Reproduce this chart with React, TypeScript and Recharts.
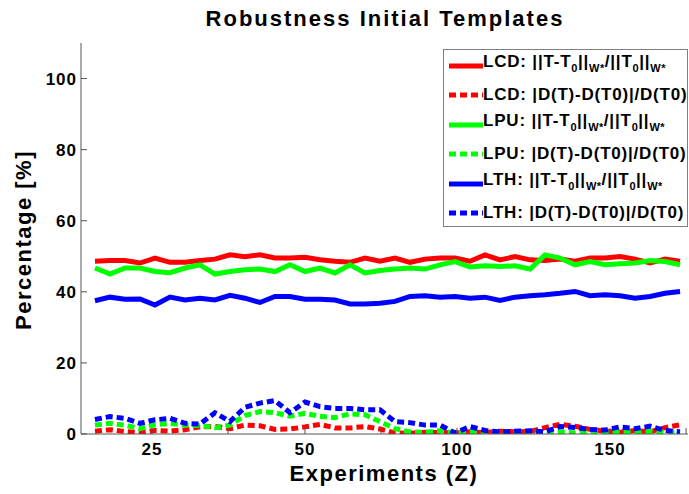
import React from 'react';
import { LineChart, Line, XAxis, YAxis } from 'recharts';

const experiments = [1, 2, 3, 4, 5, 6, 7, 8, 9, 10, 11, 12, 13, 14, 15, 16, 17, 18, 19, 20, 21, 22, 23, 24, 25, 26, 27, 28, 29, 30, 31, 32, 33, 34, 35, 36, 37, 38, 39, 40];

const lcdNorm = [48.6, 48.8, 48.8, 48.1, 49.5, 48.3, 48.3, 48.8, 49.2, 50.4, 49.9, 50.4, 49.5, 49.5, 49.7, 49.0, 48.6, 48.3, 49.5, 48.6, 49.5, 48.3, 49.2, 49.5, 49.5, 48.6, 50.4, 49.0, 49.9, 49.0, 48.8, 49.2, 48.6, 49.5, 49.5, 49.9, 49.2, 48.1, 49.2, 48.6];
const lcdDet = [0.8, 1.2, 0.7, 0.4, 1.0, 0.8, 1.2, 2.0, 2.1, 1.5, 2.5, 2.3, 1.3, 1.4, 2.0, 2.7, 1.7, 1.7, 2.1, 1.4, 0.3, 0.2, 0.5, 0.4, 0.3, 0.6, 0.4, 0.8, 0.6, 0.7, 1.8, 2.7, 2.2, 1.3, 0.8, 0.5, 1.0, 0.6, 1.8, 2.6];
const lpuNorm = [46.7, 45.0, 46.7, 46.7, 45.7, 45.4, 46.7, 47.6, 45.0, 45.7, 46.2, 46.4, 45.7, 47.6, 45.7, 46.7, 45.3, 47.6, 45.3, 46.0, 46.4, 46.7, 46.4, 47.6, 48.5, 47.0, 47.3, 47.1, 47.3, 46.4, 50.4, 49.5, 47.6, 48.5, 47.6, 47.9, 48.1, 48.8, 48.5, 47.6];
const lpuDet = [2.5, 3.0, 2.5, 1.5, 2.6, 3.0, 2.5, 2.4, 1.8, 2.5, 5.2, 6.3, 6.0, 5.0, 5.8, 5.0, 4.6, 5.7, 5.4, 3.5, 1.5, 0.6, 0.5, 0.9, 0.3, 0.5, 0.4, 0.5, 0.5, 0.4, 0.5, 0.6, 0.3, 0.8, 0.5, 0.6, 0.4, 0.7, 0.5, 0.6];
const lthNorm = [37.5, 38.5, 37.9, 38.0, 36.3, 38.5, 37.7, 38.2, 37.7, 39.0, 38.2, 37.0, 38.7, 38.7, 37.9, 37.9, 37.7, 36.6, 36.6, 36.8, 37.3, 38.7, 38.9, 38.5, 38.7, 38.2, 38.5, 37.6, 38.5, 38.9, 39.2, 39.6, 40.1, 38.9, 39.2, 38.9, 38.2, 38.7, 39.6, 40.1];
const lthDet = [4.1, 4.9, 4.4, 3.0, 4.0, 4.4, 3.0, 2.8, 6.0, 3.5, 7.5, 8.7, 9.4, 6.0, 9.0, 7.7, 7.2, 7.2, 6.8, 6.8, 3.5, 3.2, 2.5, 2.5, 0.3, 2.1, 1.0, 0.6, 0.8, 0.9, 0.6, 2.1, 1.8, 1.3, 1.1, 2.0, 1.5, 2.2, 1.0, 0.6];

const xTickPositions = [4.8, 9.87, 15, 20.07, 25.13, 30.27, 35.33, 40.4];
const xTickLabels = ['25', '', '50', '', '100', '', '150', ''];
const yTicks = [0, 20, 40, 60, 80, 100];

const title = 'Robustness Initial Templates';
const xLabel = 'Experiments (Z)';
const yLabel = 'Percentage [%]';

const series = [
  { key: 'lcdNorm', method: 'LCD', kind: 'norm', color: '#ff0000', values: lcdNorm },
  { key: 'lcdDet', method: 'LCD', kind: 'det', color: '#ff0000', values: lcdDet },
  { key: 'lpuNorm', method: 'LPU', kind: 'norm', color: '#00ff00', values: lpuNorm },
  { key: 'lpuDet', method: 'LPU', kind: 'det', color: '#00ff00', values: lpuDet },
  { key: 'lthNorm', method: 'LTH', kind: 'norm', color: '#0000ff', values: lthNorm },
  { key: 'lthDet', method: 'LTH', kind: 'det', color: '#0000ff', values: lthDet },
];

const data = experiments.map((z, i) => {
  const row: Record<string, number> = { z };
  series.forEach((s) => {
    row[s.key] = s.values[i];
  });
  return row;
});

const FONT = '"Liberation Sans", Arial, Helvetica, sans-serif';
const DASH = '7 4';

const subStyle: React.CSSProperties = { fontSize: 11, position: 'relative', top: 5, letterSpacing: 0.5 };

function LegendText({ method, kind }: { method: string; kind: string }) {
  if (kind === 'norm') {
    return (
      <span style={{ position: 'relative', top: -4 }}>
        {method}: ||T-T<span style={subStyle}>0</span>||<span style={subStyle}>W*</span>/||T
        <span style={subStyle}>0</span>||<span style={subStyle}>W*</span>
      </span>
    );
  }
  return <span>{method}: |D(T)-D(T0)|/D(T0)</span>;
}

function LegendBox() {
  return (
    <div
      style={{
        position: 'absolute',
        left: 443,
        top: 49,
        width: 243,
        height: 176,
        border: '1px solid #808080',
        background: '#fff',
        fontFamily: FONT,
        fontWeight: 'bold',
        fontSize: 17,
        letterSpacing: 0.8,
        color: '#000',
        overflow: 'hidden',
      }}
    >
      {series.map((s, i) => {
        const cy = 16 + i * 29.4;
        return (
          <div key={s.key} style={{ position: 'absolute', left: 0, top: cy - 10, height: 20, width: '100%' }}>
            <svg width={36} height={20} style={{ position: 'absolute', left: 4, top: 0 }}>
              <line
                x1={1}
                y1={10}
                x2={35}
                y2={10}
                stroke={s.color}
                strokeWidth={5}
                strokeDasharray={s.kind === 'det' ? DASH : undefined}
              />
            </svg>
            <div style={{ position: 'absolute', left: 39, top: 0, lineHeight: '20px', whiteSpace: 'nowrap' }}>
              <LegendText method={s.method} kind={s.kind} />
            </div>
          </div>
        );
      })}
    </div>
  );
}

const tickStyle = { fill: '#000', fontSize: 17, fontWeight: 'bold', fontFamily: FONT, letterSpacing: 1 };

export default function App() {
  return (
    <div style={{ position: 'absolute', left: 0, top: 0, width: 689, height: 494, background: '#fff' }}>
      <LineChart width={689} height={494} data={data} margin={{ top: 43, right: 1, bottom: 0, left: 0 }}>
        <XAxis
          dataKey="z"
          type="number"
          domain={[0.07, 40.53]}
          ticks={xTickPositions}
          tickFormatter={(v: number, idx: number) => xTickLabels[idx] ?? ''}
          interval={0}
          height={60}
          stroke="#555"
          tickSize={-6}
          tickMargin={15}
          tick={tickStyle}
          allowDataOverflow
        />
        <YAxis
          type="number"
          domain={[0, 110]}
          ticks={yTicks}
          interval={0}
          width={81}
          stroke="#555"
          tickSize={-6}
          tickMargin={10}
          tick={tickStyle}
          allowDataOverflow
        />
        {series.map((s) => (
          <Line
            key={s.key}
            dataKey={s.key}
            type="linear"
            stroke={s.color}
            strokeWidth={5}
            strokeDasharray={s.kind === 'det' ? DASH : undefined}
            dot={false}
            activeDot={false}
            isAnimationActive={false}
          />
        ))}
        <text x={385} y={26} textAnchor="middle" fontFamily={FONT} fontWeight="bold" fontSize={22} letterSpacing={2} fill="#000">
          {title}
        </text>
        <text x={384} y={481} textAnchor="middle" fontFamily={FONT} fontWeight="bold" fontSize={22} letterSpacing={1.5} fill="#000">
          {xLabel}
        </text>
        <text
          x={31}
          y={240}
          transform="rotate(-90 31 240)"
          textAnchor="middle"
          fontFamily={FONT}
          fontWeight="bold"
          fontSize={22}
          letterSpacing={1.5}
          fill="#000"
        >
          {yLabel}
        </text>
      </LineChart>
      <LegendBox />
    </div>
  );
}
